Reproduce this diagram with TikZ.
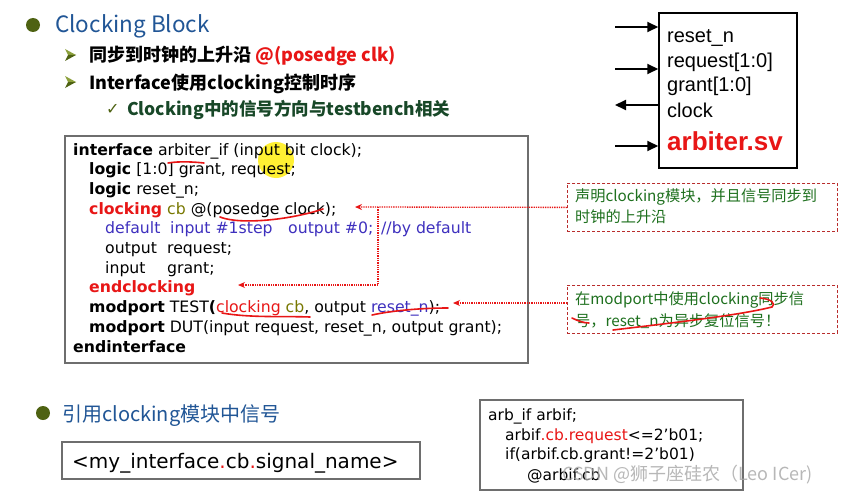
\documentclass[tikz,border=0pt]{standalone}
\usepackage{fontspec}
\usepackage{xcolor}
\usepackage{tikz}
\usetikzlibrary{arrows.meta, positioning, calc}
\setmainfont{DejaVu Sans}
\newfontfamily\cjk{Noto Sans CJK SC}
\newfontfamily\arialfont{Liberation Sans}
\definecolor{bulletgreen}{RGB}{78,98,18}
\definecolor{bulletlight}{RGB}{140,160,60}
\definecolor{titleblue}{RGB}{33,86,150}
\definecolor{checkgreen}{RGB}{24,72,40}
\definecolor{slidered}{RGB}{232,22,22}
\definecolor{cbolive}{RGB}{120,120,0}
\definecolor{codeblue}{RGB}{62,48,190}
\definecolor{notegreen}{RGB}{30,112,30}
\definecolor{noteborder}{RGB}{185,45,45}
\definecolor{framegray}{RGB}{110,110,110}
\newcommand{\codesize}{\fontsize{15.7}{19}\selectfont}
\newcommand{\redkw}[1]{\textcolor{slidered}{\textbf{#1}}}

\begin{document}
\begin{tikzpicture}[
    x=1pt, y=-1pt,
    txt/.style={inner sep=0pt, anchor=base west},
    code/.style={txt, font=\codesize},
    codeblueline/.style={code, text=codeblue},
    frame/.style={draw=framegray, line width=1.5pt, anchor=north west},
    portline/.style={line width=2pt, -{Triangle[length=11pt, width=10pt]}},
    portlinein/.style={line width=2pt, {Triangle[length=11pt, width=10pt]}-},
    notebox/.style={draw=noteborder, densely dashed, line width=0.8pt, anchor=north west},
    notetxt/.style={txt, text=notegreen, font=\cjk\fontsize{15.2}{18}\selectfont},
    notearrow/.style={slidered, densely dotted, line width=1.3pt, -{Stealth[length=7pt, width=6pt]}},
    scribble/.style={slidered, line width=1.6pt, line cap=round}
]
\useasboundingbox (0,0) rectangle (848,495);
\fill[white] (0,0) rectangle (848,495);

% Heading and bullets
\fill[bulletgreen] (33,25) circle (7);
\node[txt, text=titleblue, font=\cjk\fontsize{22.5}{26}\selectfont] (title) at (55,33) {Clocking Block};
\foreach \by in {55,82} {
    \fill[bulletlight] (65,{\by-6}) -- (76,\by) -- (68,\by) -- cycle;
    \fill[bulletgreen] (65,{\by+6}) -- (76,\by) -- (68,\by) -- cycle;
}
\node[txt, font=\cjk\bfseries\fontsize{18}{22}\selectfont] (sub1) at (89,62) {同步到时钟的上升沿 \textcolor{slidered}{@(posedge clk)}};
\node[txt, font=\cjk\bfseries\fontsize{18}{22}\selectfont] (sub2) at (89,89) {Interface使用clocking控制时序};
\node[txt, text=bulletgreen, font=\fontsize{16}{18}\selectfont] (tick) at (106,114) {✓};
\node[txt, text=checkgreen, font=\cjk\bfseries\fontsize{17.5}{20}\selectfont] (sub3) at (127,115) {Clocking中的信号方向与testbench相关};

% Arbiter block
\node[draw, line width=1.5pt, minimum width=138, minimum height=155] (arbiter) at (728,90.5) {};
\foreach \py/\pdir in {27/portline, 69/portline, 105/portlinein, 146/portline} {
    \coordinate (p\py) at (615,\py);
    \draw[\pdir] (p\py) -- (p\py -| arbiter.west);
}
\node[txt, font=\arialfont\fontsize{20}{24}\selectfont] (rst) at (667,43) {reset\_n};
\node[txt, font=\arialfont\fontsize{20}{24}\selectfont] (req) at (667,67.5) {request[1:0]};
\node[txt, font=\arialfont\fontsize{20}{24}\selectfont] (gnt) at (667,92) {grant[1:0]};
\node[txt, font=\arialfont\fontsize{20}{24}\selectfont] (clk) at (667,117) {clock};
\node[txt, text=slidered, font=\arialfont\bfseries\fontsize{26}{30}\selectfont] (arbname) at (667,150) {arbiter.sv};

% Interface code
\node[frame, minimum width=463, minimum height=227] (codebox) at (64,135) {};
\fill[yellow!95!orange, opacity=0.8] (276,160) circle (18);
\node[code] (c0) at (73,155) {\textbf{interface} arbiter\_if (input bit clock);};
\node[code] (c1) at (89,174.7) {\textbf{logic} [1:0] grant, request;};
\node[code] (c2) at (89,194.4) {\textbf{logic} reset\_n;};
\node[code] (c3) at (89,214.1) {\redkw{clocking} \textcolor{cbolive}{cb} @(posedge clock);};
\node[codeblueline] (c4a) at (105,233.8) {default};
\node[codeblueline] (c4b) at (170,233.8) {input \#1step};
\node[codeblueline] (c4c) at (288,233.8) {output \#0;};
\node[codeblueline] (c4d) at (381,233.8) {//by default};
\node[code] (c5a) at (105,253.5) {output};
\node[code] (c5b) at (167,253.5) {request;};
\node[code] (c6a) at (105,273.2) {input};
\node[code] (c6b) at (167,273.2) {grant;};
\node[code] (c7) at (89,292.9) {\redkw{endclocking}};
\node[code] (c8) at (89,312.6) {\textbf{modport} TEST\textbf{(}\textcolor{slidered}{clocking} \textcolor{cbolive}{cb}, output \textcolor{codeblue}{reset\_n});};
\node[code] (c9) at (89,332.3) {\textbf{modport} DUT(input request, reset\_n, output grant);};
\node[code] (c10) at (73,352) {\textbf{endinterface}};

% Pen marks
\draw[scribble] (168,163) .. controls (180,161) and (195,162) .. (204,163);
\draw[scribble] (220,217) .. controls (240,225) and (290,220) .. (323,209);
\draw[scribble] (222,313) .. controls (250,318) and (285,316) .. (310,317);
\draw[scribble] (372,315) .. controls (395,310) and (425,308) .. (448,308);

% Notes
\node[notebox, minimum width=270, minimum height=48] (note1) at (567,183) {};
\node[notetxt] (n1a) at (575,201) {声明clocking模块，并且信号同步到};
\node[notetxt] (n1b) at (575,222) {时钟的上升沿};
\node[notebox, minimum width=270, minimum height=48] (note2) at (567,285) {};
\node[notetxt] (n2a) at (575,304) {在modport中使用clocking同步信};
\node[notetxt] (n2b) at (575,326) {号，reset\_n为异步复位信号！};
\draw[scribble] (760,298) .. controls (772,299) and (776,304) .. (772,307);
\draw[scribble] (613,330) .. controls (680,322) and (740,315) .. (772,307);
\draw[scribble] (572,318) .. controls (578,321) and (584,323) .. (589,323);

% Note arrows
\coordinate (tipclock) at (355,207);
\coordinate (branch) at (378,207);
\coordinate (tipend) at (238,285);
\coordinate (tipreset) at (453,303);
\draw[notearrow] (note1.west) -- (tipclock);
\draw[notearrow] (branch) |- (tipend);
\draw[notearrow] (tipreset -| note2.west) -- (tipreset);

% Signal reference
\fill[bulletgreen] (43,413) circle (7);
\node[txt, text=titleblue, font=\cjk\fontsize{20}{24}\selectfont] (refhead) at (62,421) {引用clocking模块中信号};
\node[frame, minimum width=358, minimum height=37] (refbox) at (61,441) {};
\node[txt, font=\fontsize{20}{24}\selectfont] (refname) at (72,468) {<my\_interface\textcolor{slidered}{.}cb\textcolor{slidered}{.}signal\_name>};

% Usage example
\node[frame, minimum width=263, minimum height=90] (usebox) at (479,399) {};
\node[txt, font=\fontsize{15.5}{19}\selectfont] (u1) at (488,420) {arb\_if arbif;};
\node[txt, font=\fontsize{15.5}{19}\selectfont] (u2) at (505,440) {arbif\textcolor{slidered}{.cb.request}<=2’b01;};
\node[txt, font=\fontsize{15.5}{19}\selectfont] (u3) at (505,459) {if(arbif.cb.grant!=2’b01)};
\node[txt, font=\fontsize{15.5}{19}\selectfont] (u4) at (527,480) {@arbif.cb};
\node[txt, text=gray!70, opacity=0.8, font=\cjk\fontsize{18}{22}\selectfont] (mark) at (562,480) {CSDN @狮子座硅农（Leo ICer)};

\end{tikzpicture}
\end{document}
